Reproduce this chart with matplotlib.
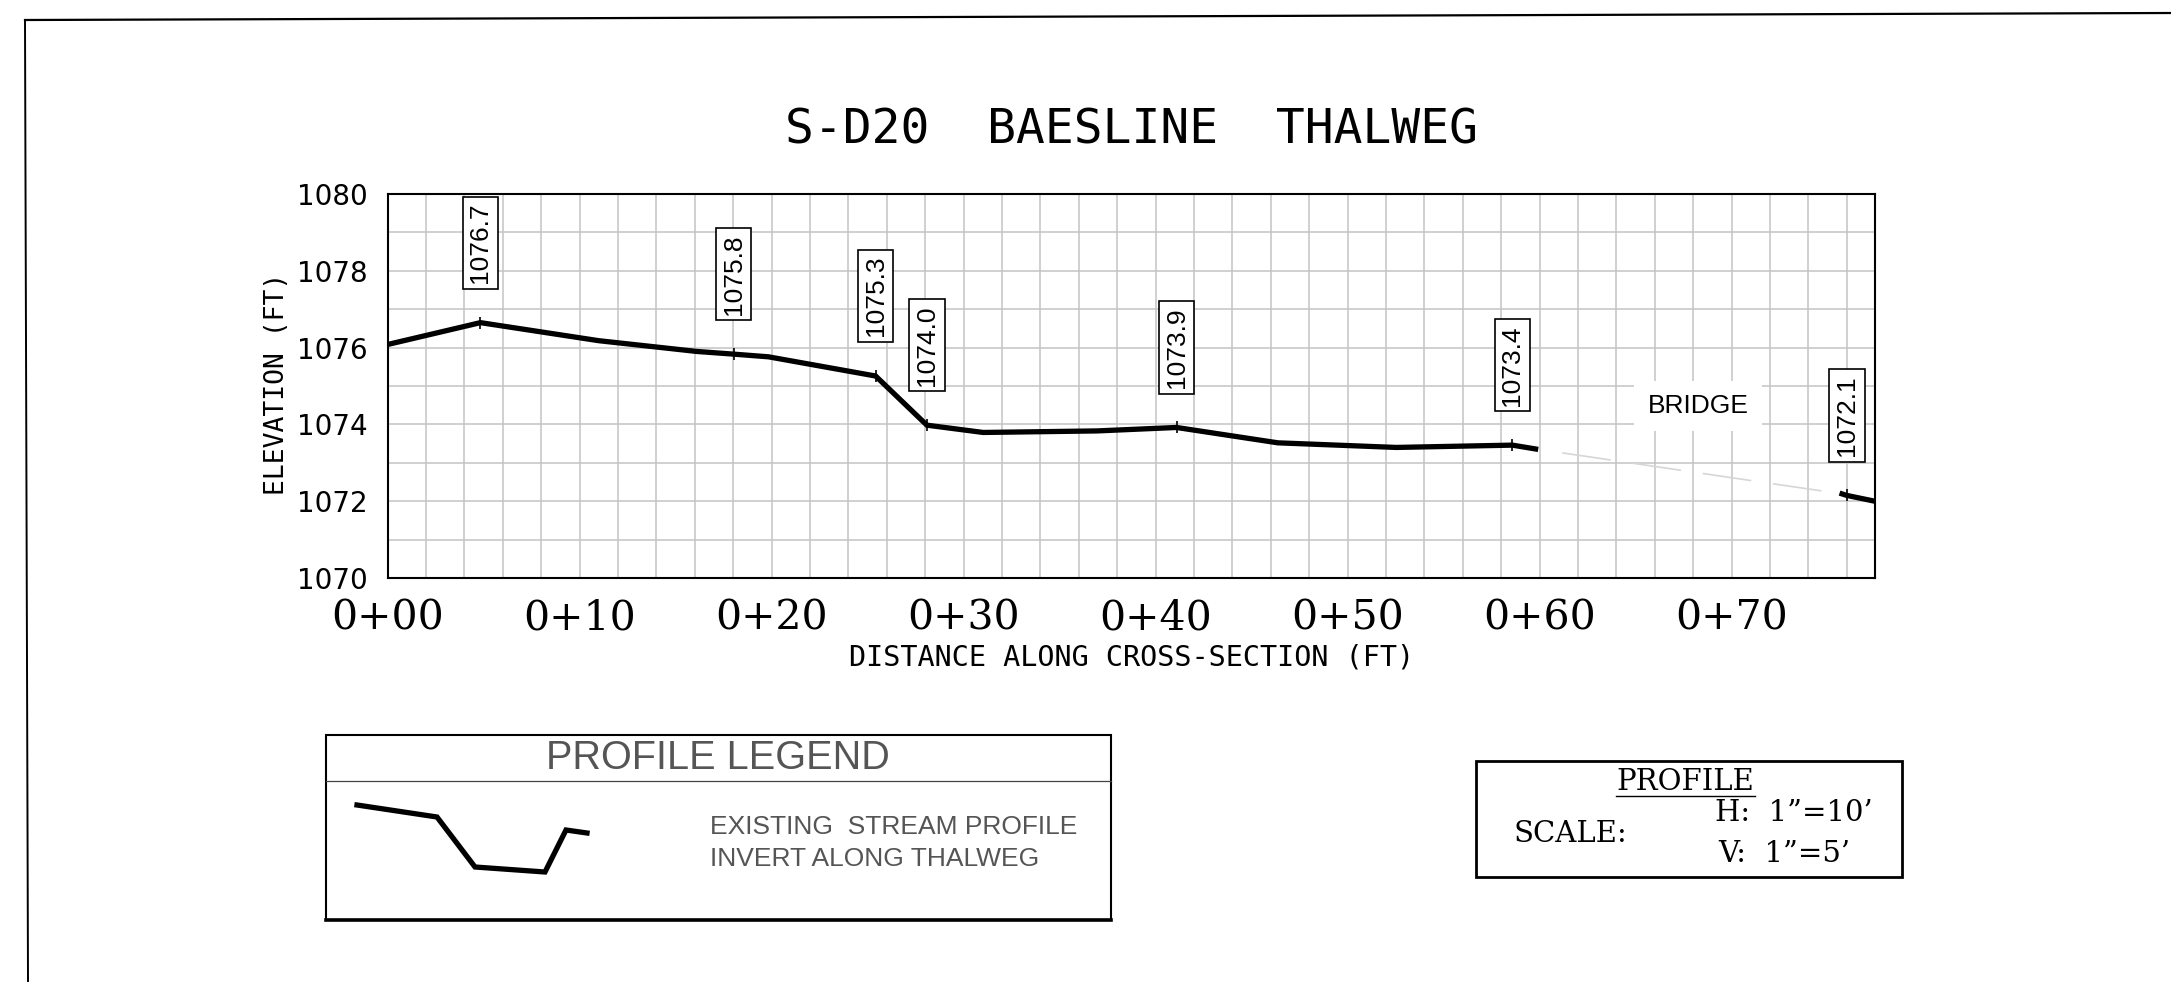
import matplotlib
matplotlib.use("Agg")
import matplotlib.pyplot as plt
from matplotlib.lines import Line2D
from matplotlib.patches import Rectangle
from matplotlib.ticker import MultipleLocator

# thalweg profile up to the bridge (station ft, elevation ft)
station = [0.0, 4.84, 11.0, 16.1, 18.02, 19.84, 25.42, 28.09, 31.02, 36.95,
           41.09, 46.37, 52.53, 58.58, 59.79]
elev = [1076.08, 1076.65, 1076.18, 1075.90, 1075.83, 1075.76, 1075.26, 1073.98,
        1073.79, 1073.83, 1073.92, 1073.52, 1073.40, 1073.46, 1073.36]

# profile downstream of the bridge
station_ds = [75.75, 76.0, 77.45]
elev_ds = [1072.19, 1072.15, 1072.0]

# surveyed shots that get a label
shot_station = [4.84, 18.02, 25.42, 28.09, 41.09, 58.58, 76.0]
shot_elev = [1076.65, 1075.83, 1075.26, 1073.98, 1073.92, 1073.46, 1072.15]
shot_text = ["1076.7", "1075.8", "1075.3", "1074.0", "1073.9", "1073.4", "1072.1"]

xticks = [0, 10, 20, 30, 40, 50, 60, 70]
xtick_labels = ["0+00", "0+10", "0+20", "0+30", "0+40", "0+50", "0+60", "0+70"]
yticks = [1070, 1072, 1074, 1076, 1078, 1080]

W, H = 2171, 982


def fx(px):
    return px / W


def fy(py):
    return 1 - py / H


plt.rcParams['lines.scale_dashes'] = False

fig = plt.figure(figsize=(W / 100, H / 100), dpi=100)
fig.patch.set_facecolor("white")

ax = fig.add_axes([fx(387.5), fy(578), fx(1874.7) - fx(387.5), fy(194) - fy(578)])
ax.set_xlim(0, 77.45)
ax.set_ylim(1070, 1080)

ax.xaxis.set_minor_locator(MultipleLocator(2))
ax.yaxis.set_minor_locator(MultipleLocator(1))
ax.set_xticks(xticks)
ax.set_xticklabels(xtick_labels, fontfamily="DejaVu Serif", fontsize=29.5)
ax.set_yticks(yticks)
ax.set_yticklabels([str(v) for v in yticks], fontfamily="DejaVu Sans", fontsize=20)
ax.tick_params(which="both", length=0)
ax.tick_params(axis="x", pad=15)
ax.tick_params(axis="y", pad=14)
ax.grid(which="both", color="#c4c4c4", lw=1.1, zorder=0)
ax.set_axisbelow(True)
for sp in ax.spines.values():
    sp.set_linewidth(1.5)

# profile lines
ax.plot(station, elev, color="black", lw=3.8, solid_joinstyle="miter", zorder=3)
ax.plot(station_ds, elev_ds, color="black", lw=3.8, zorder=3)
# bridge span, dashed light grey
dash = (202.2, (35.3, 15.8, 35.3, 15.8, 35.3, 15.8, 35.3, 33.0))
ax.plot([station[-1], station_ds[0]], [elev[-1], elev_ds[0]], color="#d6d6d6",
        lw=1.2, linestyle=dash, dash_capstyle="butt", zorder=2)

# shot ticks and boxed labels
ax.plot(shot_station, shot_elev, linestyle="none", marker="|", markersize=8,
        mew=1.2, color="black", zorder=4)
for xs, ys, t in zip(shot_station, shot_elev, shot_text):
    ax.annotate(t, (xs, ys), xytext=(0, 28.5), textcoords="offset points",
                rotation=90, ha="center", va="bottom", fontsize=19,
                fontfamily="Liberation Sans", zorder=5,
                bbox=dict(boxstyle="square,pad=0.22", fc="white", ec="black", lw=1.2))

ax.text(68.25, 1074.48, "BRIDGE", ha="center", va="center", fontsize=19,
        fontfamily="Liberation Sans", zorder=5,
        bbox=dict(boxstyle="square,pad=0.5", fc="white", ec="none"))

ax.text(0.5, 1.167, "S-D20  BAESLINE  THALWEG", transform=ax.transAxes,
        ha="center", va="center", fontsize=34.5, fontfamily="DejaVu Sans Mono")
ax.set_xlabel("DISTANCE ALONG CROSS-SECTION (FT)", fontsize=20.5,
              fontfamily="DejaVu Sans Mono", va="center")
ax.xaxis.set_label_coords(0.5, -0.208)
ax.set_ylabel("ELEVATION (FT)", fontsize=19, fontfamily="DejaVu Sans Mono", va="center")
ax.yaxis.set_label_coords(-0.0743, 0.505)

# sheet border
fig.add_artist(Line2D([fx(25), fx(2171)], [fy(20), fy(13)], color="black", lw=1.6))
fig.add_artist(Line2D([fx(25), fx(28)], [fy(20), fy(982)], color="black", lw=1.4))

# profile legend box
fig.add_artist(Rectangle((fx(325.7), fy(920)), fx(1111) - fx(325.7), fy(735) - fy(920),
                         fill=False, ec="black", lw=1.5))
fig.add_artist(Line2D([fx(325.7), fx(1111)], [fy(920), fy(920)], color="black", lw=2.6))
fig.add_artist(Line2D([fx(325.7), fx(1111)], [fy(781), fy(781)], color="#444444", lw=0.9))
fig.text(fx(718), fy(758), "PROFILE LEGEND", ha="center", va="center", fontsize=28.5,
         fontfamily="Liberation Sans", color="#555555")
glyph_x = [357, 437, 475, 545, 566, 587]
glyph_y = [805, 817, 867, 872, 830, 833]
fig.add_artist(Line2D([fx(v) for v in glyph_x], [fy(v) for v in glyph_y], color="black",
                      lw=3.8, solid_joinstyle="miter"))
fig.text(fx(710), fy(826.7), "EXISTING  STREAM PROFILE", ha="left", va="center",
         fontsize=19, fontfamily="Liberation Sans", color="#555555")
fig.text(fx(710), fy(859), "INVERT ALONG THALWEG", ha="left", va="center",
         fontsize=19, fontfamily="Liberation Sans", color="#555555")

# scale box
fig.add_artist(Rectangle((fx(1476), fy(876.7)), fx(1901.7) - fx(1476), fy(760.7) - fy(876.7),
                         fill=False, ec="black", lw=2.0))
fig.text(fx(1685), fy(782.5), "PROFILE", ha="center", va="center", fontsize=21,
         fontfamily="DejaVu Serif")
fig.add_artist(Line2D([fx(1616), fx(1755)], [fy(796), fy(796)], color="black", lw=1.0))
fig.text(fx(1513), fy(834), "SCALE:", ha="left", va="center", fontsize=21,
         fontfamily="DejaVu Serif")
fig.text(fx(1715), fy(813), "H:  1\u201d=10\u2019", ha="left", va="center", fontsize=21,
         fontfamily="DejaVu Serif")
fig.text(fx(1718), fy(854), "V:  1\u201d=5\u2019", ha="left", va="center", fontsize=21,
         fontfamily="DejaVu Serif")

fig.savefig("out.png", dpi=100)
